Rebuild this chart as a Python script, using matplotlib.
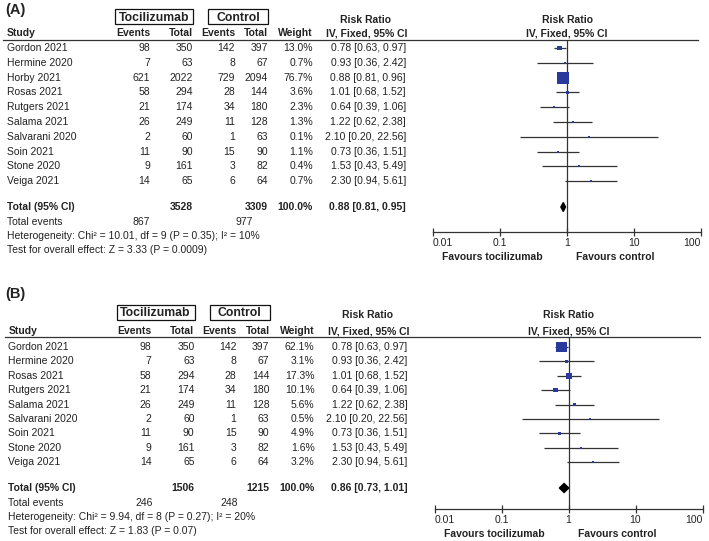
import numpy as np
import matplotlib.pyplot as plt
from matplotlib.patches import Rectangle

plt.rcParams['font.family'] = ['Liberation Sans', 'DejaVu Sans']

W, H = 709, 541
TXT = '#222222'
SQ = '#2a3a9c'

# Panel A data
studies_a = ['Gordon 2021', 'Hermine 2020', 'Horby 2021', 'Rosas 2021', 'Rutgers 2021',
             'Salama 2021', 'Salvarani 2020', 'Soin 2021', 'Stone 2020', 'Veiga 2021']
toci_events_a = [98, 7, 621, 58, 21, 26, 2, 11, 9, 14]
toci_total_a = [350, 63, 2022, 294, 174, 249, 60, 90, 161, 65]
ctrl_events_a = [142, 8, 729, 28, 34, 11, 1, 15, 3, 6]
ctrl_total_a = [397, 67, 2094, 144, 180, 128, 63, 90, 82, 64]
weight_a = [13.0, 0.7, 76.7, 3.6, 2.3, 1.3, 0.1, 1.1, 0.4, 0.7]
rr_a = [0.78, 0.93, 0.88, 1.01, 0.64, 1.22, 2.10, 0.73, 1.53, 2.30]
lo_a = [0.63, 0.36, 0.81, 0.68, 0.39, 0.62, 0.20, 0.36, 0.43, 0.94]
hi_a = [0.97, 2.42, 0.96, 1.52, 1.06, 2.38, 22.56, 1.51, 5.49, 5.61]
total_a = (3528, 3309, 0.88, 0.81, 0.95)
events_sum_a = (867, 977)
het_a = 'Heterogeneity: Chi² = 10.01, df = 9 (P = 0.35); I² = 10%'
test_a = 'Test for overall effect: Z = 3.33 (P = 0.0009)'

# Panel B data
studies_b = ['Gordon 2021', 'Hermine 2020', 'Rosas 2021', 'Rutgers 2021', 'Salama 2021',
             'Salvarani 2020', 'Soin 2021', 'Stone 2020', 'Veiga 2021']
toci_events_b = [98, 7, 58, 21, 26, 2, 11, 9, 14]
toci_total_b = [350, 63, 294, 174, 249, 60, 90, 161, 65]
ctrl_events_b = [142, 8, 28, 34, 11, 1, 15, 3, 6]
ctrl_total_b = [397, 67, 144, 180, 128, 63, 90, 82, 64]
weight_b = [62.1, 3.1, 17.3, 10.1, 5.6, 0.5, 4.9, 1.6, 3.2]
rr_b = [0.78, 0.93, 1.01, 0.64, 1.22, 2.10, 0.73, 1.53, 2.30]
lo_b = [0.63, 0.36, 0.68, 0.39, 0.62, 0.20, 0.36, 0.43, 0.94]
hi_b = [0.97, 2.42, 1.52, 1.06, 2.38, 22.56, 1.51, 5.49, 5.61]
total_b = (1506, 1215, 0.86, 0.73, 1.01)
events_sum_b = (246, 248)
het_b = 'Heterogeneity: Chi² = 9.94, df = 8 (P = 0.27); I² = 20%'
test_b = 'Test for overall effect: Z = 1.83 (P = 0.07)'

tick_vals = [0.01, 0.1, 1, 10, 100]
tick_labels = ['0.01', '0.1', '1', '10', '100']

fig = plt.figure(figsize=(W / 100, H / 100), dpi=100)
bg = fig.add_axes([0, 0, 1, 1])
bg.set_xlim(0, W)
bg.set_ylim(H, 0)
bg.axis('off')

FS = 7.5


def t(x, y, s, ha='left', bold=False, size=FS, va='center'):
    bg.text(x, y, s, ha=ha, va=va, fontsize=size, color=TXT,
            fontweight='bold' if bold else 'normal')


def ci_str(r, l, h):
    return f'{r:.2f} [{l:.2f}, {h:.2f}]'


def draw_panel(label, lay, studies, te, tt, ce, ct, w, rr, lo, hi, total, ev_sum, het, test):
    dx = lay['dx']
    t(5, lay['label'] + 5, label, bold=True, size=10.5, va='baseline')
    box_y = lay['box']
    for (x0, x1, name) in [(115, 193, 'Tocilizumab'), (208, 268, 'Control')]:
        bg.add_patch(Rectangle((x0 + dx, box_y - 7.5), x1 - x0, 15, fill=False,
                               edgecolor='#111111', lw=0.9))
        t((x0 + x1) / 2 + dx, box_y + 4.5, name, ha='center', bold=True, size=8.8,
          va='baseline')
    hy = lay['study']
    t(366 + dx, box_y + 3.5, 'Risk Ratio', ha='center', bold=True)
    t(567 + dx, box_y + 3.5, 'Risk Ratio', ha='center', bold=True)
    t(7 + dx, hy, 'Study', bold=True)
    t(150 + dx, hy, 'Events', ha='right', bold=True)
    t(193 + dx, hy, 'Total', ha='right', bold=True)
    t(235 + dx, hy, 'Events', ha='right', bold=True)
    t(268 + dx, hy, 'Total', ha='right', bold=True)
    t(313 + dx, hy, 'Weight', ha='right', bold=True)
    t(367 + dx, hy, 'IV, Fixed, 95% CI', ha='center', bold=True)
    t(567 + dx, hy, 'IV, Fixed, 95% CI', ha='center', bold=True)
    line_y = lay['line']
    bg.plot([3 + dx, 698 + dx], [line_y, line_y], color='#333333', lw=0.9)

    ys = lay['row0'] + lay['dy'] * np.arange(len(studies))
    for i, y in enumerate(ys):
        t(7 + dx, y, studies[i])
        t(150 + dx, y, str(te[i]), ha='right')
        t(193 + dx, y, str(tt[i]), ha='right')
        t(235 + dx, y, str(ce[i]), ha='right')
        t(268 + dx, y, str(ct[i]), ha='right')
        t(313 + dx, y, f'{w[i]:.1f}%', ha='right')
        t(406 + dx, y, ci_str(rr[i], lo[i], hi[i]), ha='right')
    yt = lay['total']
    t(7 + dx, yt, 'Total (95% CI)', bold=True)
    t(193 + dx, yt, str(total[0]), ha='right', bold=True)
    t(268 + dx, yt, str(total[1]), ha='right', bold=True)
    t(313 + dx, yt, '100.0%', ha='right', bold=True)
    t(406 + dx, yt, ci_str(*total[2:]), ha='right', bold=True)
    t(7 + dx, yt + 15, 'Total events')
    t(lay['ev_x'][0] + dx, yt + 15, str(ev_sum[0]), ha='right')
    t(lay['ev_x'][1] + dx, yt + 15, str(ev_sum[1]), ha='right')
    t(7 + dx, yt + 29, het)
    t(7 + dx, yt + 43, test)

    # forest plot axes, y in pixel units
    axis_y = lay['axis']
    x0, x1 = 433 + dx, 701 + dx
    ax = fig.add_axes([x0 / W, 1 - axis_y / H, (x1 - x0) / W, (axis_y - line_y) / H])
    ax.set_xscale('log')
    ax.set_xlim(0.01, 100)
    ax.set_ylim(axis_y, line_y)
    ax.patch.set_alpha(0)
    for s in ['top', 'left', 'right']:
        ax.spines[s].set_visible(False)
    ax.spines['bottom'].set_color('#333333')
    ax.spines['bottom'].set_linewidth(0.9)
    ax.set_yticks([])
    ax.set_xticks(tick_vals)
    ax.set_xticklabels(tick_labels, fontsize=FS, color=TXT)
    labs = ax.get_xticklabels()
    labs[0].set_ha('left')
    labs[-1].set_ha('right')
    ax.minorticks_off()
    ax.tick_params(axis='x', direction='inout', length=6, width=0.9, pad=1.5,
                   color='#333333')
    ax.axvline(1, color='#333333', lw=0.9)
    ax.hlines(ys, lo, hi, color='#333333', lw=0.9)
    side = np.maximum(2.0, 1.37 * np.sqrt(np.array(w)))
    ax.scatter(rr, ys, marker='s', s=(side * 0.72) ** 2, color=SQ, linewidths=0,
               zorder=3, clip_on=False)
    r, l, h = total[2:]
    ax.fill([l, r, h, r], [yt, yt - 4.5, yt, yt + 4.5], color='black', zorder=3)
    t(543 + dx, axis_y + 25, 'Favours tocilizumab', ha='right', bold=True)
    t(576 + dx, axis_y + 25, 'Favours control', bold=True)


layout_a = dict(dx=0, label=9, box=16.5, study=33, line=40, row0=48, dy=14.8,
                total=207, axis=232, ev_x=(150, 253))
layout_b = dict(dx=1.5, label=293, box=312, study=331, line=337, row0=347, dy=14.4,
                total=488, axis=509, ev_x=(151, 236))

draw_panel('(A)', layout_a, studies_a, toci_events_a, toci_total_a, ctrl_events_a,
           ctrl_total_a, weight_a, rr_a, lo_a, hi_a, total_a, events_sum_a, het_a, test_a)
draw_panel('(B)', layout_b, studies_b, toci_events_b, toci_total_b, ctrl_events_b,
           ctrl_total_b, weight_b, rr_b, lo_b, hi_b, total_b, events_sum_b, het_b, test_b)

fig.savefig('out.png', dpi=100)
